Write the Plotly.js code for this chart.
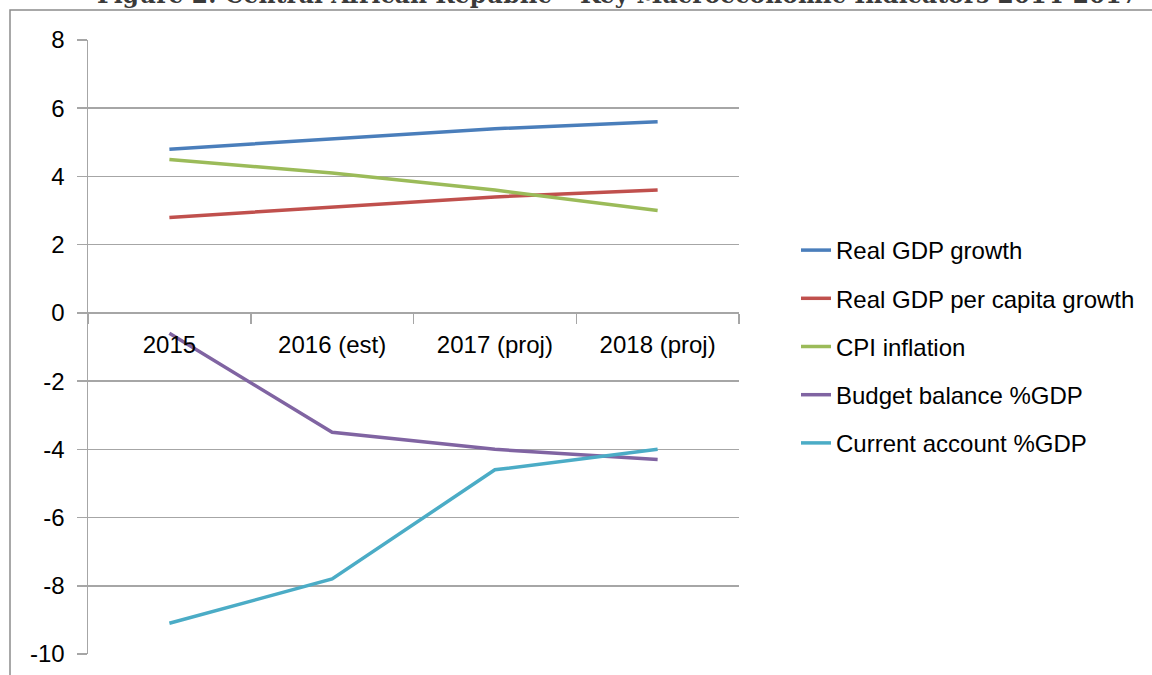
<!DOCTYPE html>
<html>
<head>
<meta charset="utf-8">
<script src="https://cdn.plot.ly/plotly-3.0.1.min.js"></script>
<style>
  html, body { margin: 0; padding: 0; background: #fff; }
  #chart { width: 1152px; height: 675px; }
</style>
</head>
<body>
<div id="chart"></div>
<script>
const years = ['2015', '2016 (est)', '2017 (proj)', '2018 (proj)'];

const realGdp       = [4.8, 5.1, 5.4, 5.6];
const realGdpCapita = [2.8, 3.1, 3.4, 3.6];
const cpiInflation  = [4.5, 4.1, 3.6, 3.0];
const budgetBalance = [-0.6, -3.5, -4.0, -4.3];
const currentAcct   = [-9.1, -7.8, -4.6, -4.0];

const seriesNames  = ['Real GDP growth', 'Real GDP per capita growth', 'CPI inflation',
                      'Budget balance %GDP', 'Current account %GDP'];
const seriesValues = [realGdp, realGdpCapita, cpiInflation, budgetBalance, currentAcct];
const colours      = ['#4a7ebb', '#c0504d', '#9bbb59', '#8064a2', '#4bacc6'];

// Excel style labels with a plain hyphen for the minus
const yTickVals = [-10, -8, -6, -4, -2, 0, 2, 4, 6, 8];
const yTickText = ['-10', '-8', '-6', '-4', '-2', '0', '2', '4', '6', '8'];

const titleText = 'Figure 2: Central African Republic \u2013 Key Macroeconomic Indicators 2014-2017';

// plot area in pixels, used to turn pixel spots into paper coords
const L = 88, R = 739, T = 40, B = 654;
const W = 1152, H = 675;
const px = x => (x - L) / (R - L);
const py = y => (B - y) / (B - T);

const yMin = -10, yMax = 8;

const traces = seriesNames.map((name, i) => ({
  x: years,
  y: seriesValues[i],
  type: 'scatter',
  mode: 'lines',
  name: name,
  legendgroup: 'g' + i,
  line: { color: colours[i], width: 3.5 },
  hoverinfo: 'x+y+name'
}));

const gridGrey = '#a6a6a6';

const layout = {
  width: W,
  height: H,
  paper_bgcolor: '#fff',
  plot_bgcolor: '#fff',
  margin: { l: L, r: W - R, t: T, b: H - B, pad: 0 },
  font: { family: 'Liberation Sans, Arial, sans-serif', size: 24, color: '#000' },
  showlegend: true,
  legend: {
    x: px(796), y: py(228), xanchor: 'left', yanchor: 'top',
    traceorder: 'grouped', tracegroupgap: 14,
    font: { size: 24, color: '#000' },
    bgcolor: 'rgba(0,0,0,0)'
  },
  xaxis: {
    type: 'category',
    anchor: 'free',
    position: (0 - yMin) / (yMax - yMin),
    showline: true, linecolor: gridGrey, linewidth: 1.5,
    ticks: 'outside', ticklen: 10, tickcolor: gridGrey, tickwidth: 1.5,
    tickson: 'boundaries',
    ticklabelstandoff: 10,
    showgrid: false, zeroline: false,
    range: [-0.5, 3.5],
    fixedrange: true
  },
  yaxis: {
    range: [yMin, yMax],
    tickmode: 'array', tickvals: yTickVals, ticktext: yTickText,
    showgrid: true, gridcolor: gridGrey, gridwidth: 1.5,
    zeroline: false,
    showline: true, linecolor: gridGrey, linewidth: 1.5,
    ticks: 'outside', ticklen: 10, tickcolor: gridGrey, tickwidth: 1.5,
    ticklabelstandoff: 7,
    fixedrange: true
  },
  shapes: [{
    type: 'rect', xref: 'paper', yref: 'paper',
    x0: px(10), x1: px(1200), y0: py(700), y1: py(10),
    line: { color: '#8c8c8c', width: 1.5 },
    layer: 'below'
  }],
  annotations: [{
    xref: 'paper', yref: 'paper',
    x: px(95), y: py(11),
    xanchor: 'left', yanchor: 'bottom',
    text: '<b>' + titleText + '</b>',
    showarrow: false,
    font: { family: 'DejaVu Serif, serif', size: 23.5, color: '#3a3a3a' }
  }]
};

Plotly.newPlot('chart', traces, layout, { displayModeBar: false, staticPlot: true });
</script>
</body>
</html>
